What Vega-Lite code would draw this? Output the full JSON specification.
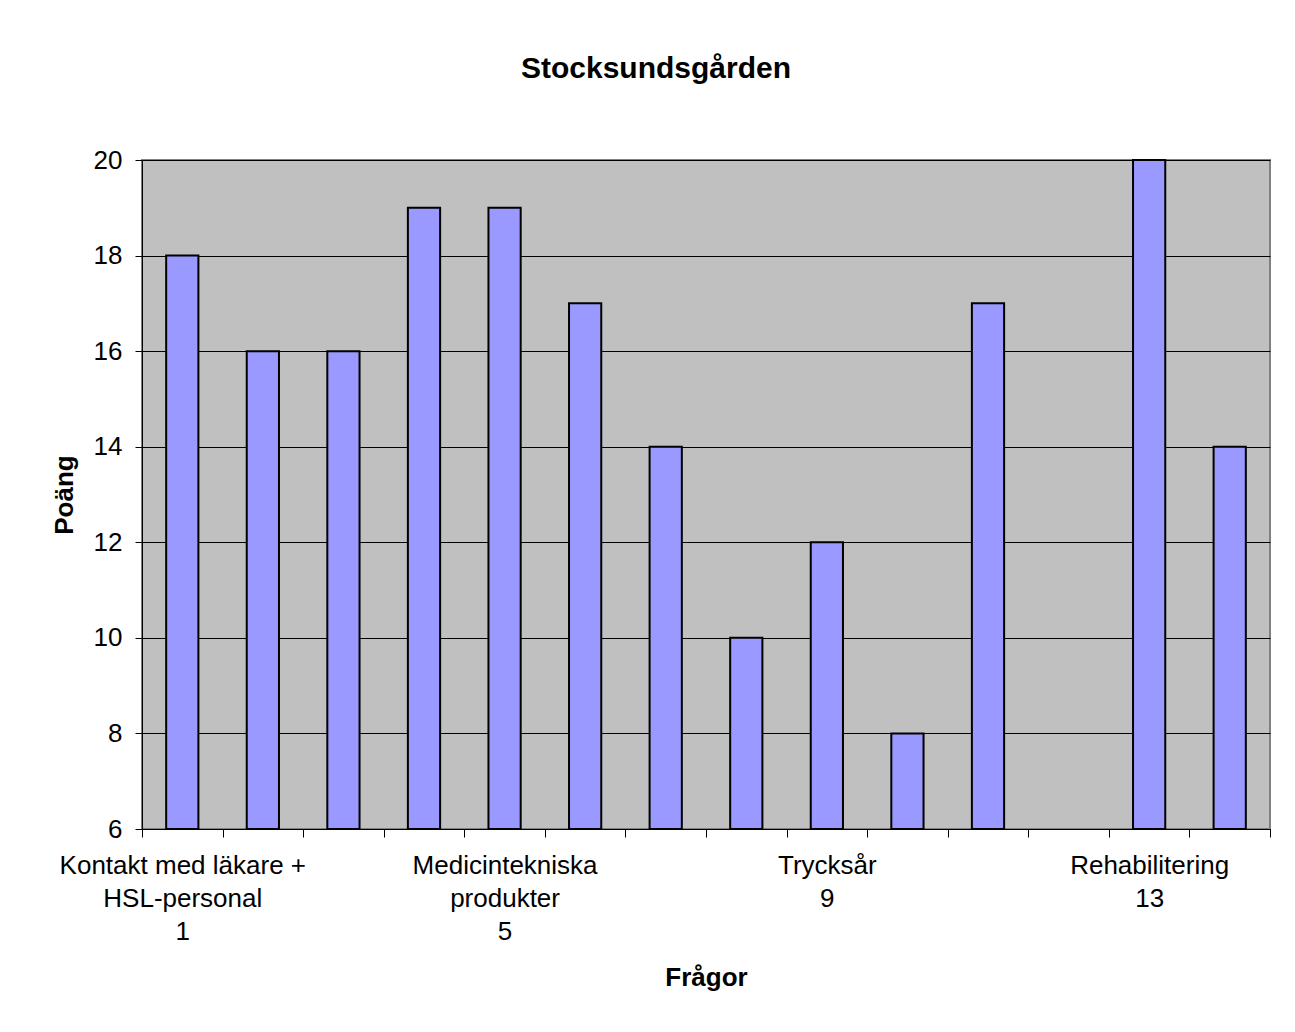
{
  "$schema": "https://vega.github.io/schema/vega-lite/v6.json",
  "autosize": {"type": "none"},
  "width": 1128,
  "height": 669,
  "padding": {"left": 142, "top": 160, "right": 25, "bottom": 203},
  "background": "white",
  "title": {
    "text": "Stocksundsgården",
    "font": "Liberation Sans",
    "fontSize": 30,
    "fontWeight": "bold",
    "color": "black",
    "anchor": "middle",
    "frame": "group",
    "dx": -50,
    "offset": 63
  },
  "data": {
    "values": [
      {"fraga": 1, "poang": 18},
      {"fraga": 2, "poang": 16},
      {"fraga": 3, "poang": 16},
      {"fraga": 4, "poang": 19},
      {"fraga": 5, "poang": 19},
      {"fraga": 6, "poang": 17},
      {"fraga": 7, "poang": 14},
      {"fraga": 8, "poang": 10},
      {"fraga": 9, "poang": 12},
      {"fraga": 10, "poang": 8},
      {"fraga": 11, "poang": 17},
      {"fraga": 13, "poang": 20},
      {"fraga": 14, "poang": 14}
    ]
  },
  "mark": {"type": "bar", "fill": "#9999FF", "stroke": "black", "strokeWidth": 2, "width": {"band": 0.4}},
  "encoding": {
    "x": {
      "field": "fraga",
      "type": "ordinal",
      "scale": {"domain": [1,2,3,4,5,6,7,8,9,10,11,12,13,14], "paddingInner": 0, "paddingOuter": 0},
      "axis": {
        "title": "Frågor",
        "titleFont": "Liberation Sans",
        "titleFontSize": 26,
        "titleFontWeight": "bold",
        "titleColor": "black",
        "titleBaseline": "top",
        "titleY": 135,
        "labelAngle": 0,
        "labelFont": "Liberation Sans",
        "labelFontSize": 26,
        "labelColor": "black",
        "labelBaseline": "top",
        "labelLineHeight": 33,
        "labelPadding": 15,
        "labelLimit": 500,
        "labelOverlap": false,
        "labelBound": false,
        "labelFlush": false,
        "labelExpr": "datum.value == 1 ? ['Kontakt med läkare +', 'HSL-personal', '1'] : datum.value == 5 ? ['Medicintekniska', 'produkter', '5'] : datum.value == 9 ? ['Trycksår', '9'] : datum.value == 13 ? ['Rehabilitering', '13'] : ''",
        "tickBand": "extent",
        "tickSize": 8,
        "tickColor": "black",
        "domainColor": "black",
        "grid": false
      }
    },
    "y": {
      "field": "poang",
      "type": "quantitative",
      "scale": {"domain": [6, 20], "zero": false, "nice": false},
      "axis": {
        "title": "Poäng",
        "titleFont": "Liberation Sans",
        "titleFontSize": 26,
        "titleFontWeight": "bold",
        "titleColor": "black",
        "titleAngle": -90,
        "titleAlign": "center",
        "titleBaseline": "middle",
        "titleX": -78,
        "titleY": 334.5,
        "values": [6, 8, 10, 12, 14, 16, 18, 20],
        "labelFont": "Liberation Sans",
        "labelFontSize": 26,
        "labelColor": "black",
        "labelPadding": 13,
        "tickSize": 7,
        "tickColor": "black",
        "domainColor": "black",
        "grid": true,
        "gridColor": "black",
        "gridOpacity": 1,
        "gridWidth": 1
      }
    },
    "y2": {"datum": 6}
  },
  "config": {
    "view": {"fill": "#C0C0C0", "stroke": "#808080", "strokeWidth": 2}
  }
}
